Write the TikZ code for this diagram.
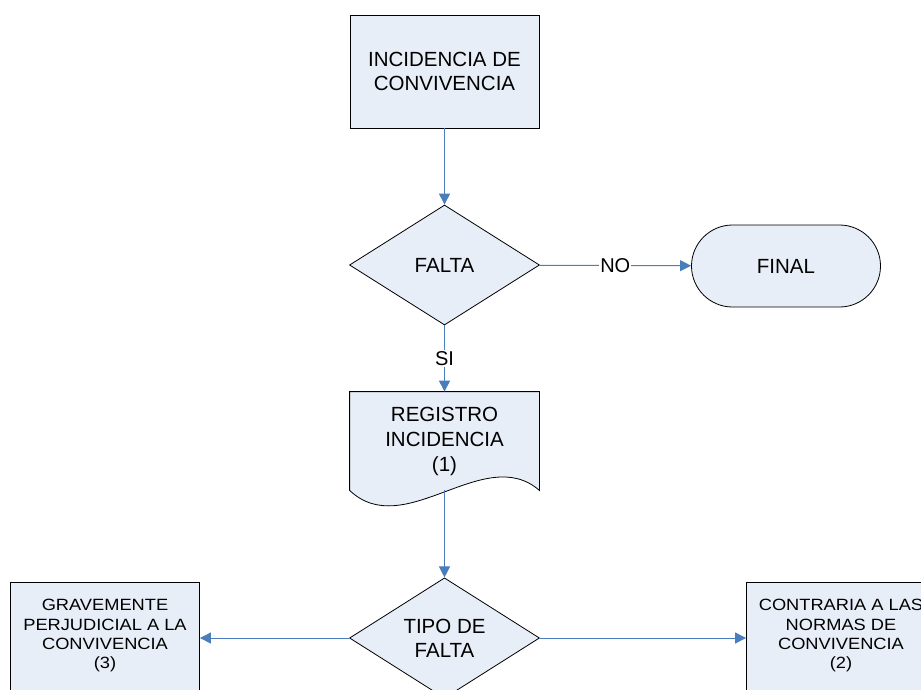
\documentclass[tikz,border=0pt]{standalone}
\usepackage{fontspec}
\setmainfont{Liberation Sans}
\newfontfamily\ancha[FakeStretch=1.12]{Liberation Sans}
\usetikzlibrary{shapes.geometric,arrows.meta}
\definecolor{relleno}{HTML}{E8EEF7}
\definecolor{azul}{HTML}{4A7EBB}
\tikzset{
  caja/.style={draw, fill=relleno, line width=0.8pt, minimum width=189pt, inner sep=0pt, align=center, font=\fontsize{20.5}{24}\selectfont},
  cajab/.style={caja, minimum height=129pt, font=\ancha\fontsize{16.3}{19.3}\selectfont},
  rombo/.style={diamond, draw, fill=relleno, line width=0.8pt, minimum width=190pt, minimum height=120pt, inner sep=0pt, align=center, font=\fontsize{20.5}{24}\selectfont},
  flecha/.style={draw=azul, fill=azul, line width=1pt, -{Triangle[length=11pt,width=11pt]}},
  etiq/.style={fill=white, inner sep=1pt, font=\fontsize{20}{24}\selectfont}
}
\begin{document}
\begin{tikzpicture}[x=1pt,y=-1pt]
    \useasboundingbox (0,0) rectangle (921,689);
    \clip (0,0) rectangle (921,689);
		% nodos
		\node[caja, minimum height=113pt] (inc) at (444.5,71.5) {INCIDENCIA DE\\CONVIVENCIA};
		\node[rombo] (falta) at (444.5,265) {FALTA};
		\node[caja, rounded corners=41pt, minimum height=82pt] (final) at (786,266) {FINAL};
		\node[caja, draw=none, fill=none, minimum height=98pt] (reg) at (444.5,441) {};
		\node[rombo] (tipo) at (444.5,638) {TIPO DE\\FALTA};
		\node[cajab] (grave) at (105,646.5) {GRAVEMENTE\\PERJUDICIAL A LA\\CONVIVENCIA\\(3)\\\strut};
		\node[cajab] (contra) at (841,646.5) {CONTRARIA A LAS\\NORMAS DE\\CONVIVENCIA\\(2)\\\strut};
		% documento
		\draw[line width=0.8pt, fill=relleno] (reg.south east) -- (reg.north east) -- (reg.north west) -- (reg.south west)
			.. controls +(55,52) and +(-55,-48) .. (reg.south east) -- cycle;
		\node[align=center, font=\fontsize{20.5}{25}\selectfont] (regtxt) at (reg.center) {REGISTRO\\INCIDENCIA\\(1)};
		% flechas
		\draw[flecha] (inc) -- (falta);
		\draw[flecha] (falta) -- node[etiq] {NO} (final);
		\draw[flecha] (falta) -- node[etiq] {SI} (reg.north);
		\draw[flecha] (reg.south) -- (tipo);
		\draw[flecha] (tipo.west) -- (tipo.west -| grave.east);
		\draw[flecha] (tipo.east) -- (tipo.east -| contra.west);
    \end{tikzpicture}
\end{document}
